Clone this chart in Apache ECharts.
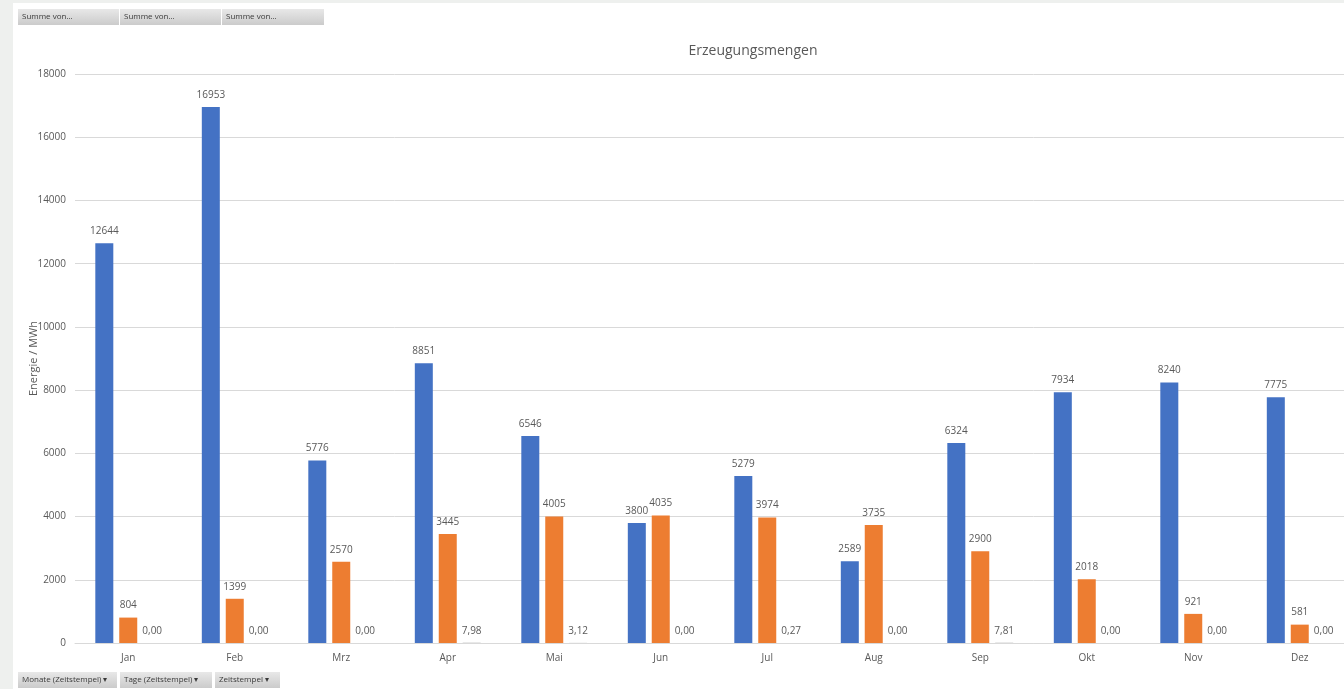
<!DOCTYPE html>
<html>
<head>
<meta charset="utf-8">
<script src="https://cdn.jsdelivr.net/npm/echarts@6/dist/echarts.min.js"></script>
<style>
  html, body { margin: 0; padding: 0; background: #eef0ee; overflow: hidden; }
  #chart { position: absolute; left: 13px; top: 3px; width: 1350px; height: 686px; background: #fff; }
</style>
</head>
<body>
<div id="chart"></div>
<script>
// --- DATEN ---
const monate = ['Jan', 'Feb', 'Mrz', 'Apr', 'Mai', 'Jun', 'Jul', 'Aug', 'Sep', 'Okt', 'Nov', 'Dez'];
const summeA = [12644, 16953, 5776, 8851, 6546, 3800, 5279, 2589, 6324, 7934, 8240, 7775];
const summeB = [804, 1399, 2570, 3445, 4005, 4035, 3974, 3735, 2900, 2018, 921, 581];
const summeC = [0, 0, 0, 7.98, 3.12, 0, 0.27, 0, 7.81, 0, 0, 0];
const yTicks = { min: 0, max: 18000, interval: 2000 };

const topButtons = ['Summe von...', 'Summe von...', 'Summe von...'];
const bottomButtons = ['Monate (Zeitstempel) \u25BE', 'Tage (Zeitstempel) \u25BE', 'Zeitstempel \u25BE'];

const chart = echarts.init(document.getElementById('chart'));

const labelStyle = { show: true, position: 'top', distance: 7, color: '#595959', fontSize: 10, fontFamily: 'Open Sans' };

// Pivot-Schaltflächen (Excel-Stil)
function makeButton(text, x, y, w) {
    return {
        type: 'group', left: x, top: y,
        children: [
            { type: 'rect', shape: { x: 0, y: 0, width: w, height: 16 },
              style: { fill: new echarts.graphic.LinearGradient(0, 0, 0, 1, [
                  { offset: 0, color: '#e8e8e8' }, { offset: 1, color: '#cbcbcb' }]) } },
            { type: 'text', x: 4, y: 8,
              style: { text: text, fill: '#3a3a3a', fontSize: 8, fontFamily: 'Open Sans', verticalAlign: 'middle' } }
        ]
    };
}

const graphics = [];
const topW = [102, 102, 103];
let tx = 5;
topButtons.forEach((t, i) => { graphics.push(makeButton(t, tx, 6, topW[i] - 1)); tx += topW[i]; });
const botW = [102, 95, 68];
let bx = 5;
bottomButtons.forEach((t, i) => { graphics.push(makeButton(t, bx, 669, botW[i] - 3)); bx += botW[i]; });

chart.setOption({
    backgroundColor: '#fff',
    animation: false,
    textStyle: { fontFamily: 'Open Sans' },
    title: {
        text: 'Erzeugungsmengen',
        left: 735, top: 36, textAlign: 'center',
        textStyle: { color: '#595959', fontSize: 14, fontWeight: 'normal', fontFamily: 'Open Sans' }
    },
    grid: { left: 62, top: 71, width: 1278, bottom: 46, containLabel: false, outerBoundsMode: 'none' },
    xAxis: {
        type: 'category', data: monate,
        axisLine: { lineStyle: { color: '#d9d9d9' } },
        axisTick: { show: false },
        axisLabel: { color: '#595959', fontSize: 10, margin: 10 }
    },
    yAxis: {
        type: 'value', min: yTicks.min, max: yTicks.max, interval: yTicks.interval,
        name: 'Energie / MWh', nameLocation: 'middle', nameGap: 36, nameMoveOverlap: false,
        nameTextStyle: { color: '#595959', fontSize: 11 },
        axisLine: { show: false }, axisTick: { show: false },
        axisLabel: { color: '#595959', fontSize: 10, margin: 9, formatter: v => String(v) },
        splitLine: { lineStyle: { color: '#d9d9d9' } }
    },
    series: [
        { name: 'Summe von A', type: 'bar', data: summeA, barWidth: 18, barGap: '33%',
          itemStyle: { color: '#4472C4' }, label: labelStyle },
        { name: 'Summe von B', type: 'bar', data: summeB, barWidth: 18, barGap: '33%',
          itemStyle: { color: '#ED7D31' }, label: labelStyle },
        { name: 'Summe von C', type: 'bar', data: summeC, barWidth: 18, barGap: '33%',
          itemStyle: { color: '#A5A5A5' },
          label: { ...labelStyle, formatter: p => p.value.toFixed(2).replace('.', ',') } }
    ],
    graphic: graphics
});

window.addEventListener('resize', () => chart.resize());
</script>
</body>
</html>
